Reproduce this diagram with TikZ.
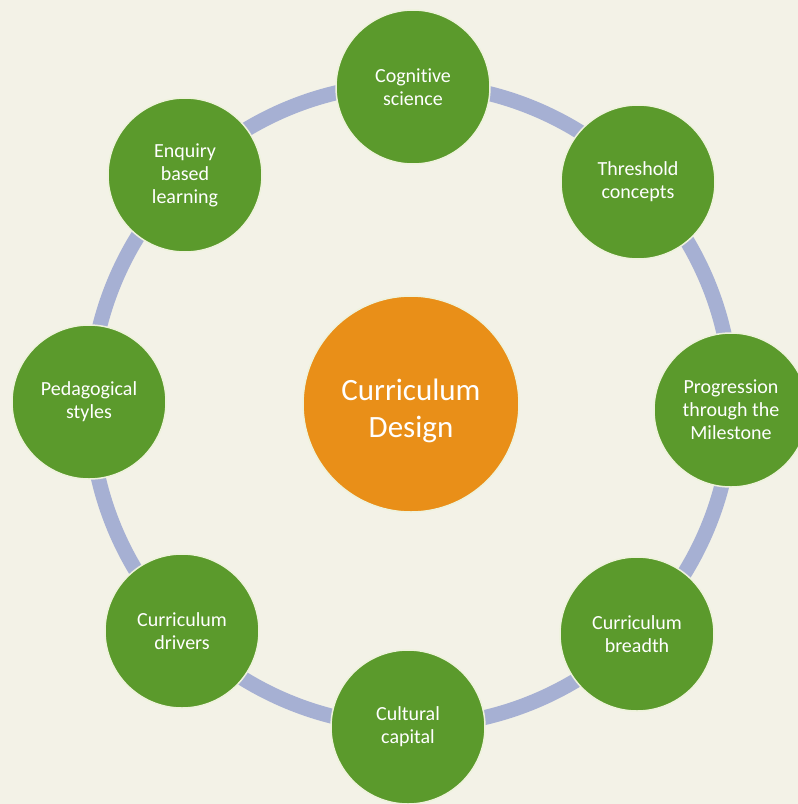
\documentclass[tikz,border=0pt]{standalone}
\usepackage{fontspec}
\setmainfont{Carlito}[Ligatures=NoCommon]
\definecolor{bg}{HTML}{F3F2E7}
\definecolor{ringc}{HTML}{A6B0D3}
\definecolor{leafc}{HTML}{5B9A2C}
\definecolor{hubc}{HTML}{E98F18}
\definecolor{rimc}{HTML}{EEF2DC}
\begin{document}
\begin{tikzpicture}[x=1pt,y=-1pt,
  leaf/.style={circle,fill=leafc,draw=rimc,line width=1.5pt,minimum size=154pt,inner sep=0pt,
    text=white,align=center,font=\fontsize{20}{23}\selectfont},
  hub/.style={circle,fill=hubc,draw=rimc,line width=1.5pt,minimum size=216pt,inner sep=0pt,
    text=white,align=center,font=\fontsize{31}{36}\selectfont},
  ring/.style={draw=ringc,line width=15pt}]
\fill[bg] (0,0) rectangle (798,804);
\useasboundingbox (0,0) rectangle (798,804);
\coordinate (c) at (411,405);
\draw[ring] (c) circle[radius=321pt];
\node[hub] (hub) at (411,404) {\raisebox{-14pt}[0pt][0pt]{\begin{tabular}{@{}c@{}}Curriculum\\[1pt]Design\end{tabular}}};
\node[leaf] (cog) at (413,87) {Cognitive\\science};
\node[leaf] (thr) at (638,182) {Threshold\\concepts};
\node[leaf] (pro) at (731,410) {Progression\\through the\\Milestone};
\node[leaf] (bre) at (637,634) {Curriculum\\breadth};
\node[leaf] (cul) at (408,727) {Cultural\\capital};
\node[leaf] (dri) at (182,631) {Curriculum\\drivers};
\node[leaf] (ped) at (89,402) {Pedagogical\\styles};
\node[leaf] (enq) at (185,175) {Enquiry\\based\\learning};
\end{tikzpicture}
\end{document}
